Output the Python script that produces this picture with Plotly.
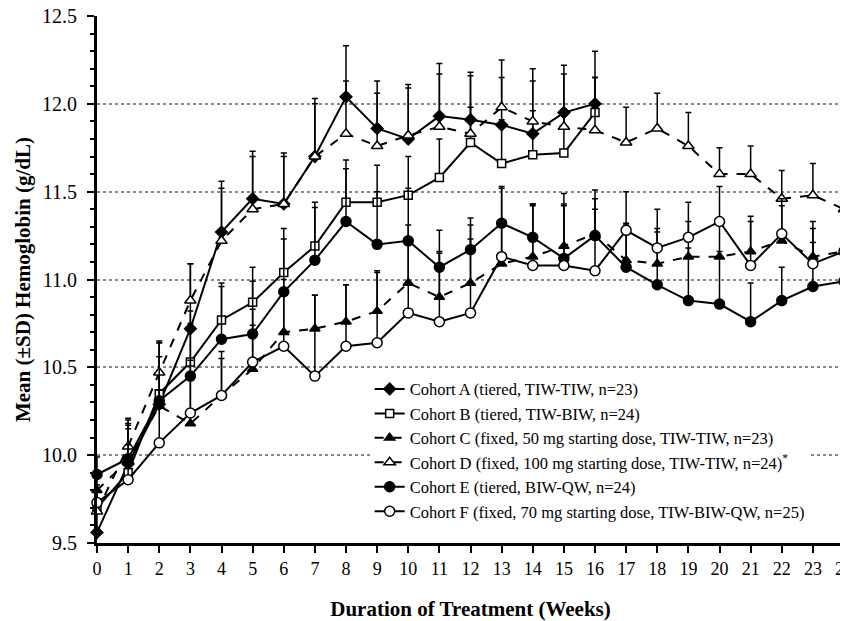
import plotly.graph_objects as go

weeks = list(range(25))

# mean hemoglobin (g/dL) per cohort
cohort_a = [9.56, 9.95, 10.29, 10.72, 11.27, 11.46, 11.43, 11.70, 12.04, 11.86, 11.80,
            11.93, 11.91, 11.88, 11.83, 11.95, 12.00]
cohort_b = [9.70, 9.90, 10.35, 10.53, 10.77, 10.87, 11.04, 11.19, 11.44, 11.44, 11.48,
            11.58, 11.78, 11.66, 11.71, 11.72, 11.95]
cohort_c = [9.80, 9.97, 10.28, 10.18, 10.34, 10.49, 10.70, 10.72, 10.76, 10.82, 10.98,
            10.90, 10.98, 11.09, 11.13, 11.19, 11.26, 11.11, 11.09, 11.13, 11.13, 11.16,
            11.22, 11.13, 11.16]
cohort_d = [9.68, 10.05, 10.47, 10.88, 11.22, 11.40, 11.43, 11.70, 11.83, 11.76, 11.82,
            11.87, 11.83, 11.98, 11.90, 11.87, 11.85, 11.78, 11.86, 11.76, 11.60, 11.60,
            11.46, 11.48, 11.40]
cohort_e = [9.89, 9.98, 10.31, 10.45, 10.66, 10.69, 10.93, 11.11, 11.33, 11.20, 11.22,
            11.07, 11.17, 11.32, 11.24, 11.12, 11.25, 11.07, 10.97, 10.88, 10.86, 10.76,
            10.88, 10.96, 10.99]
cohort_f = [9.73, 9.86, 10.07, 10.24, 10.34, 10.53, 10.62, 10.45, 10.62, 10.64, 10.81,
            10.76, 10.81, 11.13, 11.08, 11.08, 11.05, 11.28, 11.18, 11.24, 11.33, 11.08,
            11.26, 11.09, 11.16]

# upper SD bars
sd_a = [0.15, 0.26, 0.35, 0.37, 0.29, 0.27, 0.29, 0.33, 0.29, 0.27, 0.31, 0.30, 0.27,
        0.27, 0.30, 0.27, 0.30]
sd_b = [0.10, 0.25, 0.30, 0.29, 0.21, 0.20, 0.25, 0.25, 0.24, 0.21, 0.22, 0.22, 0.20,
        0.25, 0.25, 0.25, 0.20]
sd_c = [0.10, 0.20, 0.20, 0.25, 0.21, 0.25, 0.30, 0.19, 0.21, 0.23, 0.25, 0.25, 0.25,
        0.25, 0.30, 0.30, 0.25, 0.20, 0.20, 0.20, 0.20, 0.20, 0.20, 0.20, 0.20]
sd_d = [0.12, 0.15, 0.17, 0.21, 0.30, 0.30, 0.27, 0.30, 0.30, 0.30, 0.27, 0.30, 0.33,
        0.27, 0.30, 0.30, 0.30, 0.20, 0.20, 0.19, 0.15, 0.16, 0.16, 0.18, 0.20]
sd_e = [0.10, 0.20, 0.25, 0.30, 0.30, 0.30, 0.30, 0.30, 0.30, 0.30, 0.30, 0.21, 0.18,
        0.20, 0.18, 0.30, 0.21, 0.25, 0.30, 0.30, 0.30, 0.22, 0.19, 0.25, 0.25]
sd_f = [0.10, 0.20, 0.30, 0.30, 0.25, 0.30, 0.30, 0.46, 0.35, 0.40, 0.50, 0.40, 0.50,
        0.40, 0.35, 0.35, 0.35, 0.22, 0.22, 0.20, 0.20, 0.25, 0.20, 0.20, 0.25]

names = [
    "Cohort A (tiered, TIW-TIW, n=23)",
    "Cohort B (tiered, TIW-BIW, n=24)",
    "Cohort C (fixed, 50 mg starting dose, TIW-TIW, n=23)",
    "Cohort D (fixed, 100 mg starting dose, TIW-TIW, n=24)<sup>*</sup>",
    "Cohort E (tiered, BIW-QW, n=24)",
    "Cohort F (fixed, 70 mg starting dose, TIW-BIW-QW, n=25)",
]

styles = [
    (cohort_a, sd_a, "diamond", "black", 9, "solid"),
    (cohort_b, sd_b, "square", "white", 8, "solid"),
    (cohort_c, sd_c, "triangle-up", "black", 9, "dash"),
    (cohort_d, sd_d, "triangle-up", "white", 10, "dash"),
    (cohort_e, sd_e, "circle", "black", 10, "solid"),
    (cohort_f, sd_f, "circle", "white", 10, "solid"),
]

fig = go.Figure()

for name, (vals, sd, sym, fill, size, dash) in zip(names, styles):
    fig.add_trace(
        go.Scatter(
            x=weeks[:len(vals)],
            y=vals,
            name=name,
            mode="lines+markers",
            line={"color": "black", "width": 2, "dash": dash},
            marker={"symbol": sym, "size": size, "color": fill,
                    "line": {"color": "black", "width": 1.5}},
            error_y={"type": "data", "symmetric": False, "array": sd,
                     "arrayminus": [0] * len(sd), "color": "black",
                     "thickness": 1.5, "width": 3},
            cliponaxis=False,
        )
    )

fig.update_xaxes(
    range=[0, 24],
    automargin=False,
    ticklabeloverflow="allow",
    tickmode="linear", tick0=0, dtick=1,
    ticks="outside", ticklen=7, tickwidth=2, tickcolor="black",
    showline=True, linewidth=3, linecolor="black",
    showgrid=False, zeroline=False,
    tickfont={"size": 18},
    title={"text": "<b>Duration of Treatment (Weeks)</b>", "standoff": 24,
           "font": {"size": 21}},
)
fig.update_yaxes(
    range=[9.5, 12.5],
    automargin=False,
    ticklabeloverflow="allow",
    tickmode="linear", tick0=9.5, dtick=0.5, tickformat=".1f",
    ticks="outside", ticklen=7, tickwidth=2, tickcolor="black",
    ticklabelstandoff=6,
    minor={"dtick": 0.1, "ticks": "outside", "ticklen": 4, "tickwidth": 1.5,
           "tickcolor": "black", "showgrid": False},
    showline=True, linewidth=3, linecolor="black",
    showgrid=True, gridcolor="#888888", griddash="dot", gridwidth=1.5,
    zeroline=False,
    tickfont={"size": 20},
    title={"text": "<b>Mean (±SD) Hemoglobin (g/dL)</b>", "standoff": 6,
           "font": {"size": 21}},
)

# page body adds an 8 px offset, so the figure is sized to fit the window
fig.update_layout(
    width=840,
    height=613,
    plot_bgcolor="white",
    paper_bgcolor="white",
    font={"family": "Liberation Serif", "size": 17, "color": "black"},
    margin={"l": 89, "r": 4, "t": 8, "b": 78},
    legend={"x": 0.365, "y": 0.325, "xanchor": "left", "yanchor": "top",
            "bgcolor": "white", "font": {"size": 16.5}, "itemwidth": 30,
            "tracegroupgap": 0},
)

fig.write_html("out.html")
